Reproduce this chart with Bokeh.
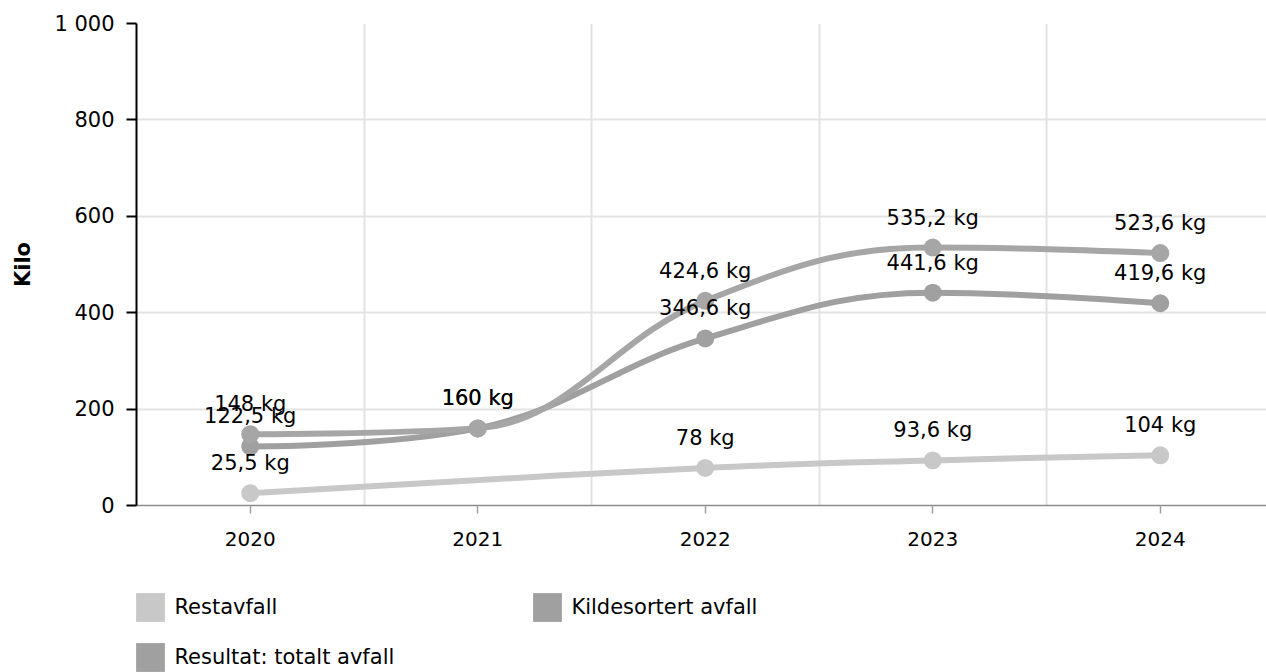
from bokeh.plotting import figure
from bokeh.layouts import column
from bokeh.models import FixedTicker, Legend, LegendItem, Range1d
from bokeh.embed import file_html
from bokeh.resources import INLINE
from bokeh.core.properties import value

# ---- data ----
years = ["2020", "2021", "2022", "2023", "2024"]
restavfall = [25.5, None, 78, 93.6, 104]
kildesortert = [122.5, 160, 346.6, 441.6, 419.6]
totalt = [148, 160, 424.6, 535.2, 523.6]
series_names = ["Restavfall", "Kildesortert avfall", "Resultat: totalt avfall"]
series_values = [restavfall, kildesortert, totalt]
colors = ["#c8c8c8", "#a0a0a0", "#a6a6a6"]
legend_colors = ["#c8c8c8", "#a0a0a0", "#a0a0a0"]
y_ticks = [0, 200, 400, 600, 800, 1000]
y_tick_labels = ["0", "200", "400", "600", "800", "1 000"]
y_title = "Kilo"

FONT = "DejaVu Sans"


def spline_segments(xs, ys, smoothing=1.5):
    """Highcharts-style spline: cubic bezier control points from the data points."""
    n = len(xs)
    left = [None] * n
    right = [None] * n
    for i in range(1, n - 1):
        px, py = xs[i], ys[i]
        lx, ly = xs[i - 1], ys[i - 1]
        nx, ny = xs[i + 1], ys[i + 1]
        d = smoothing + 1
        lcx = (smoothing * px + lx) / d
        lcy = (smoothing * py + ly) / d
        rcx = (smoothing * px + nx) / d
        rcy = (smoothing * py + ny) / d
        corr = 0
        if rcx != lcx:
            corr = ((rcy - lcy) * (rcx - px)) / (rcx - lcx) + py - rcy
        lcy += corr
        rcy += corr
        if lcy > ly and lcy > py:
            lcy = max(ly, py)
            rcy = 2 * py - lcy
        elif lcy < ly and lcy < py:
            lcy = min(ly, py)
            rcy = 2 * py - lcy
        if rcy > ny and rcy > py:
            rcy = max(ny, py)
            lcy = 2 * py - rcy
        elif rcy < ny and rcy < py:
            rcy = min(ny, py)
            lcy = 2 * py - rcy
        left[i] = (lcx, lcy)
        right[i] = (rcx, rcy)
    seg = dict(x0=[], y0=[], x1=[], y1=[], cx0=[], cy0=[], cx1=[], cy1=[])
    for i in range(1, n):
        c0 = right[i - 1] if right[i - 1] is not None else (xs[i - 1], ys[i - 1])
        c1 = left[i] if left[i] is not None else (xs[i], ys[i])
        seg["x0"].append(xs[i - 1]); seg["y0"].append(ys[i - 1])
        seg["x1"].append(xs[i]); seg["y1"].append(ys[i])
        seg["cx0"].append(c0[0]); seg["cy0"].append(c0[1])
        seg["cx1"].append(c1[0]); seg["cy1"].append(c1[1])
    return seg


def fmt(v):
    s = f"{v:g}".replace(".", ",")
    return s + " kg"


p = figure(frame_width=1130, frame_height=482,
           min_border_left=136, min_border_right=0, min_border_top=23, min_border_bottom=67,
           x_range=Range1d(-0.5, 4.467), y_range=Range1d(0, 1000),
           output_backend="svg", toolbar_location=None)
p.outline_line_color = None
p.background_fill_color = "white"
p.border_fill_color = "white"

# axes
p.yaxis.ticker = FixedTicker(ticks=y_ticks)
p.yaxis.major_label_overrides = {t: l for t, l in zip(y_ticks, y_tick_labels)}
p.yaxis.axis_line_color = "#000000"
p.yaxis.axis_line_width = 2
p.yaxis.major_tick_line_color = "#000000"
p.yaxis.major_tick_line_width = 2
p.yaxis.major_tick_out = 10
p.yaxis.major_tick_in = 0
p.yaxis.minor_tick_line_color = None
p.yaxis.major_label_standoff = 12
p.yaxis.major_label_text_font = FONT
p.yaxis.major_label_text_font_size = "21px"
p.yaxis.major_label_text_color = "#000000"
p.yaxis.axis_label = y_title
p.yaxis.axis_label_text_font = FONT
p.yaxis.axis_label_text_font_style = "bold"
p.yaxis.axis_label_text_font_size = "21px"
p.yaxis.axis_label_text_color = "#000000"
p.yaxis.axis_label_standoff = 16

p.xaxis.ticker = FixedTicker(ticks=list(range(len(years))))
p.xaxis.major_label_overrides = {i: y for i, y in enumerate(years)}
p.xaxis.axis_line_color = "#8c8c8c"
p.xaxis.axis_line_width = 1.5
p.xaxis.major_tick_line_color = "#a0a0a0"
p.xaxis.major_tick_line_width = 1.5
p.xaxis.major_tick_out = 8
p.xaxis.major_tick_in = 0
p.xaxis.minor_tick_line_color = None
p.xaxis.major_label_standoff = 18
p.xaxis.major_label_text_font = FONT
p.xaxis.major_label_text_font_size = "20px"
p.xaxis.major_label_text_color = "#000000"

# grids
p.xgrid.ticker = FixedTicker(ticks=[0.5, 1.5, 2.5, 3.5])
p.ygrid.ticker = FixedTicker(ticks=y_ticks)
p.xgrid.grid_line_color = "#e3e3e3"
p.ygrid.grid_line_color = "#e3e3e3"
p.xgrid.grid_line_width = 2
p.ygrid.grid_line_width = 2

# series
label_sets = []
for vals, c in zip(series_values, colors):
    xs = [i for i, v in enumerate(vals) if v is not None]
    ys = [v for v in vals if v is not None]
    seg = spline_segments(xs, ys)
    p.bezier(line_color=c, line_width=6, line_cap="round", **seg)
    p.scatter(x=xs, y=ys, size=18, marker="circle", fill_color=c, line_color=None)
    label_sets.append((xs, ys, [fmt(v) for v in ys]))

for xs, ys, labels in label_sets:
    p.text(x=xs, y=ys, text=labels, text_align="center", text_baseline="alphabetic",
           y_offset=-30, text_font=value(FONT), text_font_size="21px", text_color="#000000")

# legend strip (separate figure under the chart, square swatches)
lg = figure(width=1266, height=100, min_border=0, x_axis_location=None, y_axis_location=None,
            x_range=Range1d(0, 1), y_range=Range1d(0, 1),
            output_backend="svg", toolbar_location=None)
lg.outline_line_color = None
lg.xgrid.visible = False
lg.ygrid.visible = False
lg.background_fill_color = "white"
lg.border_fill_color = "white"

items = []
for name, c in zip(series_names, legend_colors):
    # swatch renderer kept outside the visible range; only its legend glyph is seen
    r = lg.quad(left=[-10], right=[-9], top=[-9], bottom=[-10], fill_color=c, line_color=None)
    items.append(LegendItem(label=name, renderers=[r]))

legend = Legend(items=items, location=(-3.6, -3), orientation="horizontal", ncols=2,
                glyph_width=36, glyph_height=36, label_height=36, label_standoff=6,
                label_width=341, spacing=14, padding=0, margin=0,
                border_line_color=None, background_fill_alpha=0,
                label_text_font=FONT, label_text_font_size="21px", label_text_color="#000000")
lg.add_layout(legend, "center")

layout = column(p, lg, spacing=0)
open("out.html", "w").write(file_html(layout, INLINE))
